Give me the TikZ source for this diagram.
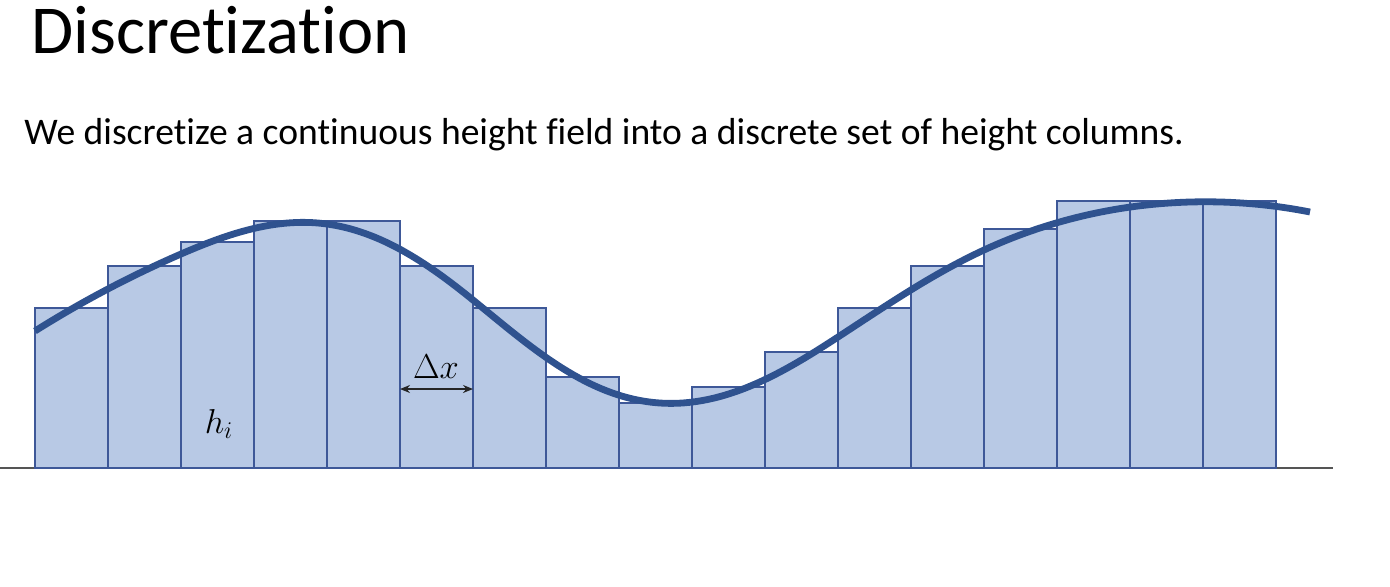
\documentclass[tikz,border=0pt]{standalone}
\usepackage{fontspec}
\setmainfont[Ligatures=NoCommon]{Carlito}
\usetikzlibrary{arrows.meta,hobby}
\definecolor{colfill}{RGB}{184,201,229}
\definecolor{coledge}{RGB}{62,88,152}
\definecolor{curvecol}{RGB}{47,82,143}
\definecolor{basecol}{RGB}{85,85,85}
\tikzset{
  column/.style={fill=colfill, draw=coledge, line width=0.8pt},
  heightcurve/.style={draw=curvecol, line width=3.4pt, line cap=butt},
  baseline/.style={draw=basecol, line width=0.8pt},
  dimarrow/.style={draw=black!85, line width=0.7pt, {Stealth[length=5pt,width=4pt]}-{Stealth[length=5pt,width=4pt]}},
  mathlabel/.style={font=\fontsize{18}{21}\selectfont, inner sep=0pt}
}
\begin{document}
\begin{tikzpicture}[x=0.5pt,y=-0.5pt]
\useasboundingbox (0,0) rectangle (1390,586);
% title and text
\node[anchor=base west, inner sep=0pt, font=\fontsize{34.3}{41}\selectfont] (title) at (31,53) {Discretization};
\node[anchor=base west, inner sep=0pt, font=\fontsize{18.8}{23}\selectfont] (subtitle) at (24,144) {We discretize a continuous height field into a discrete set of height columns.};
% baseline
\coordinate (bl) at (0,468);
\coordinate (br) at (1333,468);
\draw[baseline] (bl) -- (br);
% columns
\foreach \i/\h in {0/308,1/266,2/242,3/221,4/221,5/266,6/308,7/377,8/403,9/387,10/352,11/308,12/266,13/229,14/201,15/201,16/201}{
  \draw[column] ({35+73*\i},468) rectangle ({108+73*\i},\h);
}
% curve
\draw[heightcurve, use Hobby shortcut] (35,331) .. (181,254) .. (318,223) .. (473,300) .. (660,403) .. (838,337) .. (984,250) .. (1190,202) .. (1310,212);
% labels
\coordinate (dxl) at (400,389);
\coordinate (dxr) at (473,389);
\draw[dimarrow] (dxl) -- (dxr);
\node[mathlabel, anchor=base] (dx) at (436,378) {$\Delta x$};
\node[mathlabel, anchor=base] (hi) at (219,433) {$h_i$};
\end{tikzpicture}
\end{document}
